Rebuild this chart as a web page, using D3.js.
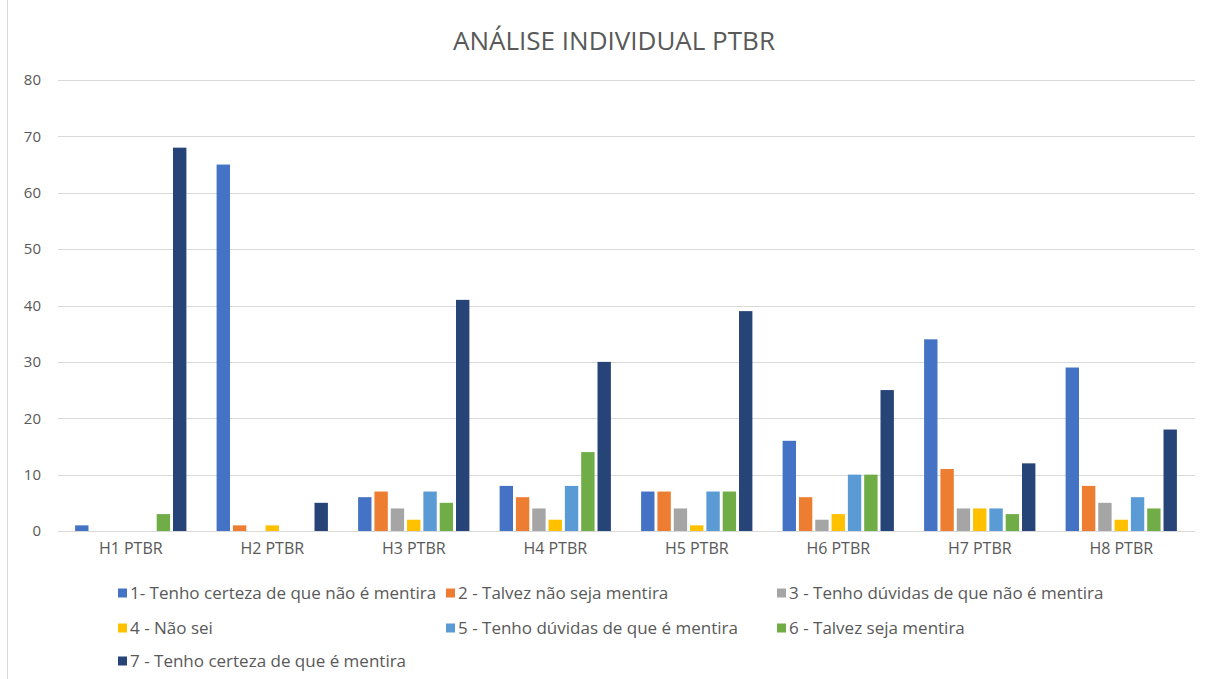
<!DOCTYPE html>
<html>
<head>
<meta charset="utf-8">
<script src="https://cdn.jsdelivr.net/npm/d3@7"></script>
<style>
  body { margin: 0; background: #fff; }
  text { font-family: "Open Sans", "Noto Sans", sans-serif; fill: #595959; }
</style>
</head>
<body>
<svg id="svg"></svg>
<script>
var width = 1213, height = 679;

// data
var categories = ['H1 PTBR', 'H2 PTBR', 'H3 PTBR', 'H4 PTBR', 'H5 PTBR', 'H6 PTBR', 'H7 PTBR', 'H8 PTBR'];
var seriesNames = [
  '1- Tenho certeza de que não é mentira',
  '2 - Talvez não seja mentira',
  '3 - Tenho dúvidas de que não é mentira',
  '4 - Não sei',
  '5 - Tenho dúvidas de que é mentira',
  '6 - Talvez seja mentira',
  '7 - Tenho certeza de que é mentira'
];
var s1 = [1, 65, 6, 8, 7, 16, 34, 29];
var s2 = [0, 1, 7, 6, 7, 6, 11, 8];
var s3 = [0, 0, 4, 4, 4, 2, 4, 5];
var s4 = [0, 1, 2, 2, 1, 3, 4, 2];
var s5 = [0, 0, 7, 8, 7, 10, 4, 6];
var s6 = [3, 0, 5, 14, 7, 10, 3, 4];
var s7 = [68, 5, 41, 30, 39, 25, 12, 18];
var yTicks = [0, 10, 20, 30, 40, 50, 60, 70, 80];
var colors = ['#4472C4', '#ED7D31', '#A5A5A5', '#FFC000', '#5B9BD5', '#70AD47', '#264478'];

var seriesValues = [s1, s2, s3, s4, s5, s6, s7];

var svg = d3.select('#svg')
  .attr('width', width)
  .attr('height', height);

// chart outline on the left
svg.append('line')
  .attr('x1', 7.5).attr('x2', 7.5)
  .attr('y1', 0).attr('y2', height)
  .attr('stroke', '#d9d9d9');

var plotLeft = 60, plotRight = 1192, plotTop = 80, plotBottom = 531;

var x0 = d3.scaleBand().domain(categories).range([plotLeft, plotRight])
  .paddingInner(0.172).paddingOuter(0.086);
var x1 = d3.scaleBand().domain(d3.range(seriesNames.length)).range([0, x0.bandwidth()])
  .padding(0.18);
var y = d3.scaleLinear().domain([0, 80]).range([plotBottom, plotTop]);

// title
svg.append('text')
  .attr('x', 614).attr('y', 50)
  .attr('text-anchor', 'middle')
  .style('font-size', '26px')
  .text('ANÁLISE INDIVIDUAL PTBR');

// gridlines
svg.append('g').selectAll('line')
  .data(yTicks)
  .enter().append('line')
  .attr('x1', plotLeft - 2).attr('x2', plotRight + 3)
  .attr('y1', function (d) { return Math.round(y(d)) + 0.5; })
  .attr('y2', function (d) { return Math.round(y(d)) + 0.5; })
  .attr('stroke', '#d9d9d9');

// y axis labels
var yAxis = d3.axisLeft(y).tickValues(yTicks).tickSize(0).tickPadding(19);
var gy = svg.append('g').attr('transform', 'translate(' + plotLeft + ',0)').call(yAxis);
gy.select('.domain').remove();
gy.selectAll('text').style('font-size', '15px').attr('fill', '#595959');

// x axis labels
var xAxis = d3.axisBottom(x0).tickSize(0).tickPadding(12);
var gx = svg.append('g').attr('transform', 'translate(0,' + plotBottom + ')').call(xAxis);
gx.select('.domain').remove();
gx.selectAll('text').style('font-size', '16px').attr('fill', '#595959');

// bars
var groups = svg.append('g').selectAll('g')
  .data(categories)
  .enter().append('g')
  .attr('transform', function (d) { return 'translate(' + x0(d) + ',0)'; });

groups.selectAll('rect')
  .data(function (d, ci) {
    return seriesValues.map(function (vals, si) { return { s: si, v: vals[ci] }; });
  })
  .enter().append('rect')
  .attr('x', function (d) { return x1(d.s); })
  .attr('width', x1.bandwidth())
  .attr('y', function (d) { return y(d.v); })
  .attr('height', function (d) { return y(0) - y(d.v); })
  .attr('fill', function (d) { return colors[d.s]; });

// legend
var legendCols = [118, 446, 777];
var legendRows = [593, 628, 661];
var legend = svg.append('g').selectAll('g')
  .data(seriesNames)
  .enter().append('g')
  .attr('transform', function (d, i) {
    return 'translate(' + legendCols[i % 3] + ',' + legendRows[Math.floor(i / 3)] + ')';
  });
legend.append('rect')
  .attr('x', 0).attr('y', -4.5)
  .attr('width', 9).attr('height', 9)
  .attr('fill', function (d, i) { return colors[i]; });
legend.append('text')
  .attr('x', 12).attr('y', 0)
  .attr('dy', '0.35em')
  .style('font-size', '17px')
  .text(function (d) { return d; });
</script>
</body>
</html>
